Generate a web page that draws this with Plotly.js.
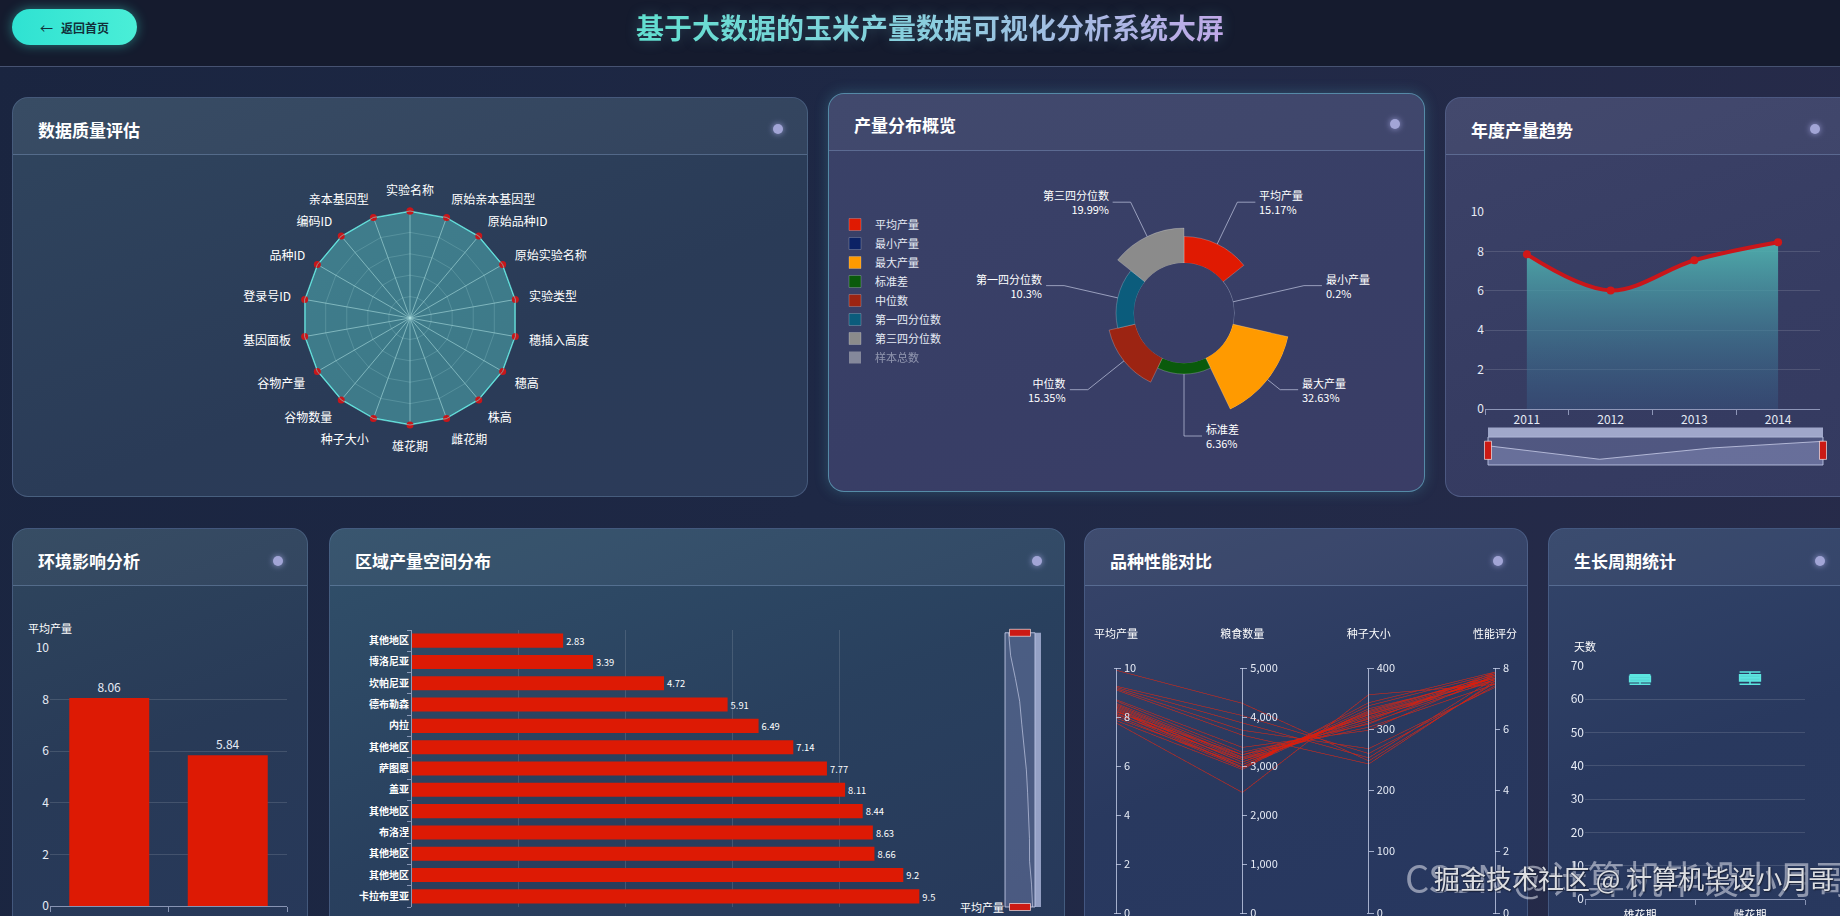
<!DOCTYPE html>
<html>
<head>
<meta charset="utf-8">
<script src="https://cdn.plot.ly/plotly-3.0.1.min.js"></script>
<style>
html,body{margin:0;padding:0;width:1840px;height:916px;overflow:hidden;}
body{position:relative;background:linear-gradient(100deg,#1a2540 0%,#1e2845 45%,#272b4a 100%);font-family:'Noto Sans CJK SC','Noto Sans',sans-serif;}
#top{position:absolute;left:0;top:0;width:1840px;height:66px;background:#151b2e;border-bottom:1px solid rgba(130,150,195,0.45);}
.btn{position:absolute;left:12px;top:9px;width:125px;height:36px;border-radius:18px;background:linear-gradient(90deg,#2fe2d2,#4aeed7);box-shadow:0 0 12px rgba(60,230,210,0.45);color:#12303a;font-size:12px;font-weight:bold;display:flex;align-items:center;justify-content:center;}
.btn b{font-weight:normal;margin-right:8px;font-size:13px;}
.title{position:absolute;left:0;width:1860px;top:7px;text-align:center;font-size:28px;line-height:40px;font-weight:bold;}
.title span{background:linear-gradient(90deg,#5fe3cf 0%,#8fd0e0 50%,#c9a6ea 100%);-webkit-background-clip:text;background-clip:text;color:transparent;text-shadow:0 0 14px rgba(120,200,220,0.25);}
.card{position:absolute;border-radius:16px;border:1px solid rgba(140,170,215,0.28);overflow:hidden;}
.hd{position:absolute;left:0;right:0;top:0;height:56px;border-bottom:1px solid rgba(150,180,225,0.32);background:rgba(255,255,255,0.04);}
.hd span{position:absolute;left:25px;top:20px;font-size:17px;line-height:24px;font-weight:bold;color:#ffffff;}
.hd i{position:absolute;top:28px;width:10px;height:10px;border-radius:50%;background:#a2a5d6;box-shadow:0 0 6px rgba(190,190,255,0.7);}
.chart{position:absolute;}
.wm1{position:absolute;left:1405px;top:853px;font-size:38px;line-height:48px;color:rgba(225,228,238,0.55);white-space:nowrap;font-family:'Noto Sans CJK SC',sans-serif;}
.wm2{position:absolute;left:1434px;top:860px;font-size:26px;line-height:36px;color:rgba(255,255,255,0.85);white-space:nowrap;text-shadow:0 0 2px #1a2238,1px 1px 1px #1a2238;font-family:'Noto Sans CJK SC',sans-serif;}
</style>
</head>
<body>
<div id="top">
  <div class="btn"><b>←</b>返回首页</div>
  <div class="title"><span>基于大数据的玉米产量数据可视化分析系统大屏</span></div>
</div>

<div class="card" style="left:12px;top:97px;width:794px;height:398px;background:linear-gradient(160deg,#30455e 0%,#2a3b57 60%,#2c3b5a 100%);">
  <div class="hd"><span>数据质量评估</span><i style="right:24px;top:26px"></i></div></div>
<div class="card" style="left:828px;top:93px;width:595px;height:397px;background:linear-gradient(160deg,#3a4268 0%,#383e66 60%,#3a3d66 100%);border-color:rgba(110,200,220,0.55);box-shadow:0 0 14px rgba(90,200,220,0.25);">
  <div class="hd" style="height:56px"><span style="top:19px">产量分布概览</span><i style="right:24px;top:25px"></i></div></div>
<div class="card" style="left:1445px;top:97px;width:412px;height:398px;background:linear-gradient(160deg,#3c4268 0%,#363c62 60%,#343a60 100%);">
  <div class="hd"><span>年度产量趋势</span><i style="right:38px;top:26px"></i></div></div>

<div class="card" style="left:12px;top:528px;width:294px;height:430px;background:linear-gradient(160deg,#2f465e 0%,#283a57 50%,#27385a 100%);">
  <div class="hd"><span>环境影响分析</span><i style="right:24px;top:27px"></i></div></div>
<div class="card" style="left:329px;top:528px;width:734px;height:430px;background:linear-gradient(160deg,#31506a 0%,#29405e 50%,#27385a 100%);">
  <div class="hd"><span>区域产量空间分布</span><i style="right:22px;top:27px"></i></div></div>
<div class="card" style="left:1084px;top:528px;width:442px;height:430px;background:linear-gradient(160deg,#38456a 0%,#29395f 50%,#273760 100%);">
  <div class="hd"><span>品种性能对比</span><i style="right:24px;top:27px"></i></div></div>
<div class="card" style="left:1548px;top:528px;width:312px;height:430px;background:linear-gradient(160deg,#33456a 0%,#29395f 50%,#28385e 100%);">
  <div class="hd"><span>生长周期统计</span><i style="right:36px;top:27px"></i></div></div>

<div id="c1" class="chart" style="left:12px;top:155px;width:794px;height:340px"></div>
<div id="c2" class="chart" style="left:828px;top:150px;width:595px;height:340px"></div>
<div id="c3" class="chart" style="left:1445px;top:155px;width:395px;height:340px"></div>
<div id="c4" class="chart" style="left:12px;top:585px;width:294px;height:365px"></div>
<div id="c5" class="chart" style="left:329px;top:585px;width:734px;height:340px"></div>
<div id="c6" class="chart" style="left:1084px;top:585px;width:442px;height:340px"></div>
<div id="c7" class="chart" style="left:1548px;top:585px;width:292px;height:345px"></div>

<div class="wm1">CSDN @计算机毕设小月哥</div>
<div class="wm2">掘金技术社区 @ 计算机毕设小月哥</div>

<script>
// ---------------- DATA ----------------
const qualityFields = ['实验名称','原始亲本基因型','原始品种ID','原始实验名称','实验类型','穗插入高度','穗高','株高','雌花期','雄花期','种子大小','谷物数量','谷物产量','基因面板','登录号ID','品种ID','编码ID','亲本基因型'];
const qualityScores = [100,100,100,100,100,100,100,100,100,100,100,100,100,100,100,100,100,100];

const distNames = ['平均产量','最小产量','最大产量','标准差','中位数','第一四分位数','第三四分位数'];
const distPct = [15.17,0.2,32.63,6.36,15.35,10.3,19.99];
const distColors = ['#e01a02','#0c2265','#ff9a00','#0a5a0c','#9c2412','#0b5c7c','#8b8b8b'];
const distHiddenName = '样本总数';

const yearLabels = ['2011','2012','2013','2014'];
const yearYield = [7.85,6.02,7.55,8.46];

const envGroups = ['田间试验','温室试验'];
const envYield = [8.06,5.84];

const regionNames = ['其他地区','博洛尼亚','坎帕尼亚','德布勒森','内拉','其他地区','萨图恩','盖亚','其他地区','布洛涅','其他地区','其他地区','卡拉布里亚'];
const regionYield = [2.83,3.39,4.72,5.91,6.49,7.14,7.77,8.11,8.44,8.63,8.66,9.2,9.5];

const varYield = [9.95,9.3,9.25,9.2,9.15,8.75,8.7,8.6,8.55,8.5,8.45,8.4,8.35,8.3,8.3,8.25,8.2,8.15,8.1,8.0,7.9,7.8];
const varGrain = [4300,4050,3900,3750,3650,3400,3300,3250,3200,3180,3150,3100,3100,3050,3000,3250,3000,3150,2980,3050,2950,2480];
const varSeed  = [250,262,255,270,245,300,310,318,322,315,325,328,320,330,335,305,340,312,332,326,345,358];
const varScore = [7.55,7.45,7.7,7.4,7.6,7.8,7.85,7.75,7.7,7.9,7.65,7.75,7.6,7.8,7.7,7.5,7.85,7.65,7.8,7.7,7.9,7.5];

const phaseNames = ['雄花期','雌花期'];
const phaseMin = [64.5,64.5];
const phaseQ1 = [65.3,65.5];
const phaseMed = [66.2,66.5];
const phaseQ3 = [66.9,67.4];
const phaseMax = [67.4,68.2];

// ---------------- COMMON ----------------
const FONT = {family:"'Noto Sans CJK SC','Noto Sans',sans-serif", color:'#e6ebf5', size:12};
const CFG = {displayModeBar:false, staticPlot:true};
const AXC = 'rgba(200,210,240,0.6)';
const GRID = 'rgba(255,255,255,0.13)';
function base(w,h,m){return {width:w,height:h,margin:m,paper_bgcolor:'rgba(0,0,0,0)',plot_bgcolor:'rgba(0,0,0,0)',font:FONT,showlegend:false};}

// ---------------- 1. RADAR ----------------
(function(){
  const W=794,H=340,CX=398,CY=163,R=107;
  const lay = base(W,H,{l:0,r:0,t:0,b:0});
  lay.polar = {
    domain:{x:[(CX-R)/W,(CX+R)/W], y:[(H-CY-R)/H,(H-CY+R)/H]},
    bgcolor:'rgba(0,0,0,0)', gridshape:'linear',
    radialaxis:{range:[0,100], tickvals:[20,40,60,80,100], showticklabels:false, ticks:'', showline:false, gridcolor:'rgba(255,255,255,0.2)'},
    angularaxis:{direction:'clockwise', rotation:90, gridcolor:'rgba(255,255,255,0.55)', linecolor:'rgba(120,230,225,0.6)',
      ticks:'outside', ticklen:11, tickcolor:'rgba(0,0,0,0)', tickfont:{size:12,color:'#ffffff'}}
  };
  Plotly.newPlot('c1',[{
    type:'scatterpolar', r:qualityScores.concat([qualityScores[0]]), theta:qualityFields.concat([qualityFields[0]]),
    mode:'lines+markers', fill:'toself', fillcolor:'rgba(86,200,200,0.45)',
    line:{color:'#5ce6e0',width:2}, marker:{color:'#c8161a',size:7}, hoverinfo:'skip'
  }], lay, CFG);
})();

// ---------------- 2. ROSE / DONUT ----------------
(function(){
  const W=595,H=340,CX=356,CY=163,R=107,HOLE=0.467,RE=123;
  const step = 360/distNames.length;
  const vmax = Math.max(...distPct);
  const traces = distNames.map((n,i)=>({
    type:'barpolar', name:n, r:[distPct[i]], theta:[(i+0.5)*step], width:[step], base:0,
    marker:{color:distColors[i], line:{color:'rgba(255,255,255,0.22)',width:1}},
    legendgroup:'g'+i, hoverinfo:'skip'
  }));
  traces.push({type:'barpolar', name:distHiddenName, r:[null], theta:[0], width:[step], visible:'legendonly',
    marker:{color:'#d0d0d0'}, legendgroup:'g'+distNames.length, hoverinfo:'skip'});
  const shapes=[], ann=[];
  distNames.forEach((n,i)=>{
    const a=(i+0.5)*step*Math.PI/180, sx=Math.sin(a), sy=-Math.cos(a);
    const rOut = HOLE*R + distPct[i]/vmax*(1-HOLE)*R;
    const px=CX+rOut*sx, py=CY+rOut*sy, ex=CX+RE*sx, ey=CY+RE*sy;
    const side = sx >= -1e-9 ? 1 : -1;
    const qx = ex + side*18;
    shapes.push({type:'path', xref:'paper', yref:'paper',
      path:`M${px/W},${1-py/H}L${ex/W},${1-ey/H}L${qx/W},${1-ey/H}`,
      line:{color:'rgba(205,210,235,0.65)',width:1}});
    ann.push({xref:'paper', yref:'paper', x:qx/W, y:1-ey/H, xanchor:side>0?'left':'right', yanchor:'middle',
      align:side>0?'left':'right', xshift:side*2, showarrow:false, text:`${n}<br>${distPct[i]}%`,
      font:{size:11,color:'#ffffff'}});
  });
  const lay = base(W,H,{l:0,r:0,t:0,b:0});
  lay.showlegend = true;
  lay.legend = {x:7/W, y:1-60/H, xanchor:'left', yanchor:'top', bgcolor:'rgba(0,0,0,0)', font:{size:11,color:'#e6ebf5'}, tracegroupgap:7, traceorder:'normal', itemclick:false};
  lay.polar = {domain:{x:[(CX-R)/W,(CX+R)/W], y:[(H-CY-R)/H,(H-CY+R)/H]}, hole:HOLE, bgcolor:'rgba(0,0,0,0)',
    radialaxis:{visible:false, range:[0,vmax]}, angularaxis:{visible:false, direction:'clockwise', rotation:90}};
  lay.shapes = shapes; lay.annotations = ann;
  Plotly.newPlot('c2', traces, lay, CFG);
})();

// ---------------- 3. YEARLY TREND ----------------
(function(){
  const W=395,H=340;
  const lay = base(W,H,{l:40,r:17,t:57,b:30});
  const lo=Math.min(...yearYield), hi=Math.max(...yearYield), sp=hi-lo;
  lay.xaxis = {domain:[0,0.991], type:'category', range:[-0.5,3.5], tickson:'boundaries', ticks:'outside', ticklen:5,
    tickcolor:AXC, showline:true, linecolor:AXC, showgrid:false, tickfont:{size:12,color:'#e6ebf5'}, anchor:'y'};
  lay.yaxis = {domain:[0.2213,1], range:[0,10], dtick:2, gridcolor:GRID, zeroline:false, tickfont:{size:12,color:'#e6ebf5'}, anchor:'x'};
  lay.xaxis2 = {domain:[0.0089,1], anchor:'y2', type:'category', range:[0,3], visible:false};
  lay.yaxis2 = {domain:[0,0.1107], anchor:'x2', range:[lo-0.32*sp, hi+0.24*sp], visible:false};
  lay.shapes = [
    {type:'rect', xref:'x2 domain', yref:'y2 domain', x0:0, x1:1, y0:0, y1:1, fillcolor:'rgba(150,160,212,0.28)', line:{color:'rgba(205,212,240,0.8)',width:1}, layer:'below'},
    {type:'rect', xref:'x2 domain', yref:'y2 domain', x0:0, x1:1, y0:1, y1:1.34, fillcolor:'rgba(172,180,214,0.9)', line:{width:0}},
    {type:'rect', xref:'x2 domain', yref:'y2 domain', xsizemode:'pixel', xanchor:0, x0:-3.5, x1:3.5, y0:0.2, y1:0.85, fillcolor:'#cc1a14', line:{color:'rgba(255,255,255,0.6)',width:1}},
    {type:'rect', xref:'x2 domain', yref:'y2 domain', xsizemode:'pixel', xanchor:1, x0:-3.5, x1:3.5, y0:0.2, y1:0.85, fillcolor:'#cc1a14', line:{color:'rgba(255,255,255,0.6)',width:1}}
  ];
  Plotly.newPlot('c3',[
    {x:yearLabels, y:yearYield, type:'scatter', mode:'lines+markers', xaxis:'x', yaxis:'y',
     line:{color:'#c8161a',width:4,shape:'spline',smoothing:1}, marker:{color:'#d01818',size:8},
     fill:'tozeroy', fillgradient:{type:'vertical', start:0, stop:hi, colorscale:[[0,'rgba(55,95,140,0.35)'],[1,'rgba(80,180,176,0.92)']]},
     hoverinfo:'skip'},
    {x:yearLabels, y:yearYield, type:'scatter', mode:'lines', xaxis:'x2', yaxis:'y2',
     line:{color:'rgba(215,220,245,0.7)',width:1}, fill:'tozeroy', fillcolor:'rgba(175,185,230,0.25)', hoverinfo:'skip'}
  ], lay, CFG);
})();

// ---------------- 4. ENVIRONMENT BARS ----------------
(function(){
  const lay = base(294,365,{l:38,r:19,t:63,b:44});
  lay.bargap = 0.325;
  lay.xaxis = {type:'category', tickson:'boundaries', ticks:'outside', ticklen:5, tickcolor:AXC, showline:true, linecolor:AXC, showgrid:false, tickfont:{size:12}, ticklabelstandoff:14};
  lay.yaxis = {range:[0,10], dtick:2, gridcolor:GRID, zeroline:false, tickfont:{size:12,color:'#e6ebf5'}};
  lay.annotations = [{xref:'paper', yref:'paper', x:0, y:1, yshift:20, xanchor:'center', yanchor:'middle', showarrow:false, text:'平均产量', font:{size:11,color:'#ffffff'}}];
  Plotly.newPlot('c4',[{type:'bar', x:envGroups, y:envYield, marker:{color:'#dd1a04'},
    text:envYield.map(v=>v.toFixed(2)), textposition:'outside', textfont:{size:12,color:'#e6ebf5'}, cliponaxis:false, hoverinfo:'skip'}], lay, CFG);
})();

// ---------------- 5. REGION BARS ----------------
(function(){
  const idx = regionNames.map((_,i)=>i);
  const lay = base(734,340,{l:83,r:24,t:45,b:18});
  lay.bargap = 0.34;
  lay.xaxis = {domain:[0,0.8517], range:[0,10], dtick:2, showticklabels:false, gridcolor:GRID, zeroline:false, anchor:'y'};
  lay.yaxis = {range:[regionNames.length-0.5,-0.5], tickvals:idx, ticktext:regionNames, ticks:'', showline:true, linecolor:AXC,
    showgrid:false, zeroline:false, tickfont:{size:10,color:'#ffffff',weight:'bold'}, anchor:'x',
    minor:{tickvals:idx.map(i=>i-0.5).concat([regionNames.length-0.5]), ticks:'outside', ticklen:4, tickcolor:AXC, showgrid:false}};
  const lo=Math.min(...regionYield), hi=Math.max(...regionYield);
  lay.xaxis2 = {domain:[0.9458,0.9936], anchor:'y2', range:[lo-0.15*(hi-lo), hi+0.1*(hi-lo)], visible:false};
  lay.yaxis2 = {domain:[0,0.99], anchor:'x2', range:[regionNames.length-1,0], visible:false};
  lay.shapes = [
    {type:'rect', xref:'x2 domain', yref:'y2 domain', x0:0, x1:1, y0:0, y1:1, fillcolor:'rgba(150,160,212,0.32)', line:{color:'rgba(205,212,240,0.8)',width:1}, layer:'below'},
    {type:'rect', xref:'x2 domain', yref:'y2 domain', x0:1, x1:1.2, y0:0, y1:1, fillcolor:'rgba(185,195,232,0.75)', line:{width:0}},
    {type:'rect', xref:'x2 domain', yref:'y2 domain', ysizemode:'pixel', yanchor:1, y0:-3.5, y1:3.5, x0:0.15, x1:0.85, fillcolor:'#cc1a14', line:{color:'rgba(255,255,255,0.6)',width:1}},
    {type:'rect', xref:'x2 domain', yref:'y2 domain', ysizemode:'pixel', yanchor:0, y0:-3.5, y1:3.5, x0:0.15, x1:0.85, fillcolor:'#cc1a14', line:{color:'rgba(255,255,255,0.6)',width:1}}
  ];
  lay.annotations = [{xref:'paper', yref:'paper', x:0.8517, y:0, xanchor:'left', yanchor:'middle', xshift:12, showarrow:false, text:'平均产量', font:{size:11,color:'#ffffff'}}];
  Plotly.newPlot('c5',[
    {type:'bar', orientation:'h', x:regionYield, y:idx, marker:{color:'#dd1a04'}, text:regionYield.map(String), textposition:'outside',
     textfont:{size:10,color:'#ffffff'}, cliponaxis:false, hoverinfo:'skip', xaxis:'x', yaxis:'y'},
    {type:'scatter', mode:'lines', x:regionYield, y:idx, xaxis:'x2', yaxis:'y2', line:{color:'rgba(215,220,245,0.6)',width:1}, hoverinfo:'skip'}
  ], lay, CFG);
})();

// ---------------- 6. PARALLEL COORDINATES ----------------
(function(){
  const W=442,H=340;
  const lay = base(W,H,{l:0,r:0,t:0,b:0});
  function restyleAxes(){
    const root = document.getElementById('c6');
    root.querySelectorAll('.axis .domain, .axis .tick line').forEach(e=>{
      e.style.stroke='rgba(205,215,240,0.75)'; e.style.strokeOpacity='1';
    });
    root.querySelectorAll('.axis .tick line').forEach(e=>{ e.setAttribute('x2','5'); });
    root.querySelectorAll('.axis .tick text').forEach(e=>{
      e.setAttribute('x','8'); e.style.textAnchor='start'; e.setAttribute('text-anchor','start');
    });
  }
  Plotly.newPlot('c6',[{
    type:'parcoords', domain:{x:[32/W,411/W], y:[1-331/H,1-81/H]},
    line:{color:'#e01a08'}, labelside:'top',
    labelfont:{size:11,color:'#ffffff',shadow:'none'}, tickfont:{size:11,color:'#e6ebf5',shadow:'none'},
    rangefont:{size:1,color:'rgba(0,0,0,0)',shadow:'none'},
    dimensions:[
      {label:'平均产量', values:varYield, range:[0,10], tickvals:[0,2,4,6,8,10]},
      {label:'粮食数量', values:varGrain, range:[0,5000], tickvals:[0,1000,2000,3000,4000,5000], tickformat:','},
      {label:'种子大小', values:varSeed, range:[0,400], tickvals:[0,100,200,300,400]},
      {label:'性能评分', values:varScore, range:[0,8], tickvals:[0,2,4,6,8]}
    ]
  }], lay, {displayModeBar:false}).then(()=>{ restyleAxes(); setTimeout(restyleAxes,50); setTimeout(restyleAxes,300); });
})();

// ---------------- 7. BOXPLOT ----------------
(function(){
  const lay = base(292,345,{l:37,r:35,t:81,b:31});
  lay.boxgap = 0.73;
  lay.xaxis = {type:'category', tickson:'boundaries', ticks:'outside', ticklen:5, tickcolor:AXC, showline:true, linecolor:AXC, showgrid:false, tickfont:{size:11,color:'#ffffff'}, ticklabelstandoff:6};
  lay.yaxis = {range:[0,70], dtick:10, gridcolor:GRID, zeroline:false, tickfont:{size:12,color:'#e6ebf5'}};
  lay.annotations = [{xref:'paper', yref:'paper', x:0, y:1, yshift:20, xanchor:'center', yanchor:'middle', showarrow:false, text:'天数', font:{size:11,color:'#ffffff'}}];
  Plotly.newPlot('c7',[{type:'box', x:phaseNames, q1:phaseQ1, median:phaseMed, q3:phaseQ3, lowerfence:phaseMin, upperfence:phaseMax,
    fillcolor:'rgba(92,230,224,0.92)', line:{color:'#5ce6e0',width:1.5}, whiskerwidth:1, boxpoints:false, hoverinfo:'skip'}], lay, CFG);
})();
</script>
</body>
</html>
